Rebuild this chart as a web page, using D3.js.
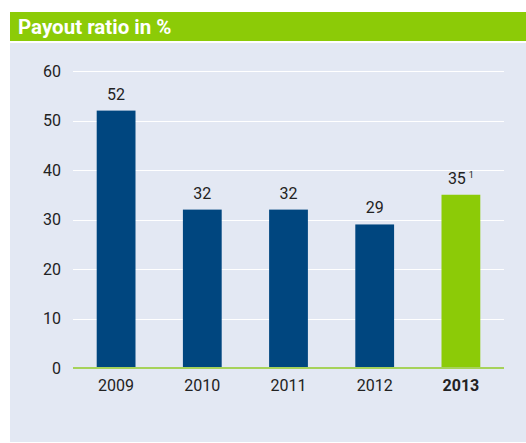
<!DOCTYPE html>
<html>
<head>
<meta charset="utf-8">
<script src="https://cdn.jsdelivr.net/npm/d3@7"></script>
<style>
  body { margin: 0; background: #fff; }
  svg { display: block; font-family: Roboto, "Liberation Sans", Arial, sans-serif; }
</style>
</head>
<body>
<div id="chart"></div>
<script>
// data
const years = ["2009", "2010", "2011", "2012", "2013"];
const payout = [52, 32, 32, 29, 35];
const footnotes = ["", "", "", "", "1"];
const yTicks = [0, 10, 20, 30, 40, 50, 60];

const W = 526, H = 443;
const cfg = {
  blue: "#00467f",
  green: "#8ccb07",
  panel: "#e3e8f3",
  text: "#222",
  fontSize: "16px"
};

const svg = d3.select("#chart").append("svg")
  .attr("width", W)
  .attr("height", H);

// header bar
svg.append("rect")
  .attr("x", 10).attr("y", 12)
  .attr("width", W - 10).attr("height", 29)
  .attr("fill", cfg.green);
svg.append("text")
  .attr("x", 18).attr("y", 34)
  .attr("fill", "#fff")
  .style("font-size", "20.5px")
  .style("font-weight", "bold")
  .text("Payout ratio in %");

// panel background
svg.append("rect")
  .attr("x", 10).attr("y", 43)
  .attr("width", W - 10).attr("height", 399)
  .attr("fill", cfg.panel);

// scales
const x = d3.scaleBand()
  .domain(years)
  .range([73, 504])
  .paddingInner(0.55)
  .paddingOuter(0.275);

const y = d3.scaleLinear()
  .domain([0, 60])
  .range([368, 71]);

// gridlines
svg.append("g").selectAll("line")
  .data(yTicks.filter(d => d > 0))
  .join("line")
    .attr("x1", 73).attr("x2", 504)
    .attr("y1", d => Math.round(y(d)) + 0.5)
    .attr("y2", d => Math.round(y(d)) + 0.5)
    .attr("stroke", "#fff")
    .attr("stroke-width", 1);

// y axis labels
const yAxis = svg.append("g")
  .attr("transform", "translate(71,0)")
  .call(d3.axisLeft(y).tickValues(yTicks).tickSize(0).tickPadding(10));
yAxis.select(".domain").remove();
yAxis.selectAll("text")
  .style("font-size", cfg.fontSize)
  .style("font-family", "Roboto, 'Liberation Sans', Arial, sans-serif")
  .attr("fill", cfg.text);

// bars
svg.append("g").selectAll("rect")
  .data(years)
  .join("rect")
    .attr("x", d => x(d))
    .attr("y", (d, i) => y(payout[i]))
    .attr("width", x.bandwidth())
    .attr("height", (d, i) => y(0) - y(payout[i]))
    .attr("fill", (d, i) => i === years.length - 1 ? cfg.green : cfg.blue);

// baseline
svg.append("line")
  .attr("x1", 73).attr("x2", 504)
  .attr("y1", y(0)).attr("y2", y(0))
  .attr("stroke", "#a6d25a")
  .attr("stroke-width", 2);

// value labels
const labels = svg.append("g").selectAll("text")
  .data(years)
  .join("text")
    .attr("x", d => x(d) + x.bandwidth() / 2)
    .attr("y", (d, i) => y(payout[i]) - 11)
    .attr("text-anchor", "middle")
    .attr("fill", cfg.text)
    .style("font-size", cfg.fontSize)
    .text((d, i) => payout[i]);
labels.filter((d, i) => footnotes[i] !== "")
  .append("tspan")
    .attr("dx", 3)
    .attr("dy", -6)
    .style("font-size", "9px")
    .text((d, i) => footnotes[years.indexOf(d)]);

// x axis labels
const xAxis = svg.append("g")
  .attr("transform", "translate(0," + y(0) + ")")
  .call(d3.axisBottom(x).tickSize(0).tickPadding(12));
xAxis.select(".domain").remove();
xAxis.selectAll("text")
  .style("font-size", cfg.fontSize)
  .style("font-family", "Roboto, 'Liberation Sans', Arial, sans-serif")
  .style("font-weight", d => d === "2013" ? "bold" : "normal")
  .attr("fill", cfg.text);
</script>
</body>
</html>
